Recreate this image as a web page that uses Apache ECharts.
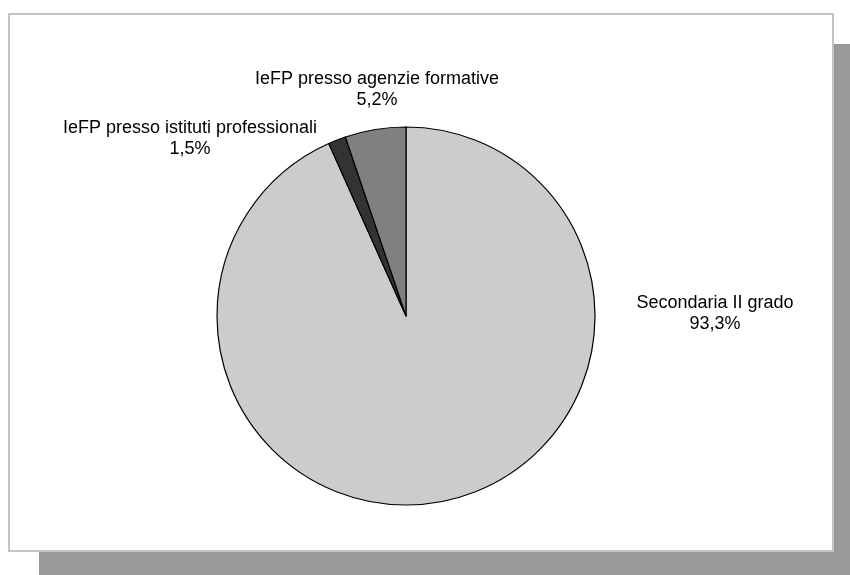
<!DOCTYPE html>
<html>
<head>
<meta charset="utf-8">
<script src="https://cdn.jsdelivr.net/npm/echarts@6/dist/echarts.min.js"></script>
<style>
html,body{margin:0;padding:0;background:#fff;}
#chart{width:850px;height:575px;}
</style>
</head>
<body>
<div id="chart"></div>
<script>
var categories = ['Secondaria II grado', 'IeFP presso istituti professionali', 'IeFP presso agenzie formative'];
var values = [93.3, 1.5, 5.2];
var colors = ['#cccccc', '#333333', '#808080'];
// label anchor positions (layout only)
var labelPos = [[715, 314], [190, 139], [377, 90]];

var chart = echarts.init(document.getElementById('chart'), null, {renderer: 'canvas'});
var data = categories.map(function (c, i) {
  return {name: c, value: values[i], itemStyle: {color: colors[i]}};
});
chart.setOption({
  backgroundColor: '#ffffff',
  animation: false,
  graphic: [
    {type: 'rect', shape: {x: 39, y: 44, width: 811, height: 531}, style: {fill: '#999999'}, z: 0},
    {type: 'rect', shape: {x: 9, y: 14, width: 824, height: 537}, style: {fill: '#ffffff', stroke: '#c4c4c4', lineWidth: 2}, z: 1}
  ],
  series: [{
    type: 'pie',
    z: 5,
    center: [406, 316],
    radius: 189,
    startAngle: 90,
    clockwise: true,
    silent: true,
    data: data,
    itemStyle: {borderColor: '#000000', borderWidth: 1.2},
    label: {
      show: true,
      position: 'outside',
      overflow: 'none',
      width: 400,
      color: '#000000',
      fontFamily: '"Liberation Sans", Arial, sans-serif',
      fontSize: 18,
      lineHeight: 21,
      align: 'center',
      formatter: function (p) {
        return p.name + '\n' + String(p.value).replace('.', ',') + '%';
      }
    },
    labelLine: {show: false},
    labelLayout: function (p) {
      var pos = labelPos[p.dataIndex];
      return {x: pos[0], y: pos[1], align: 'center', verticalAlign: 'middle'};
    }
  }]
});
</script>
</body>
</html>
